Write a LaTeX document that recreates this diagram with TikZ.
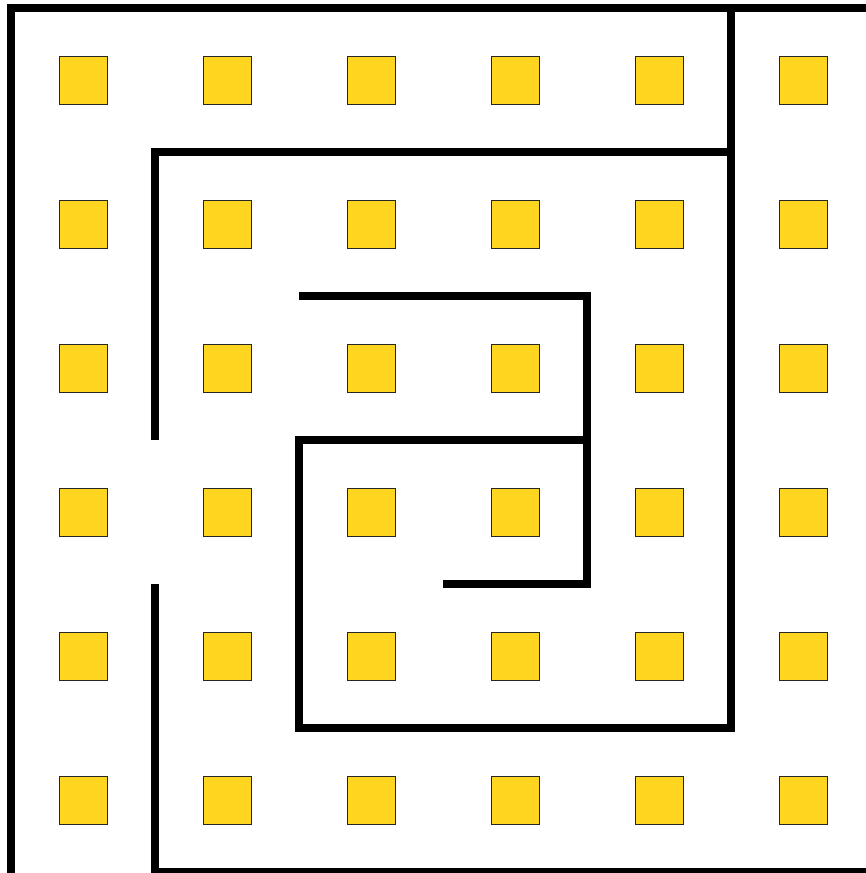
\documentclass[tikz,border=0pt]{standalone}
\usepackage{xcolor}
\usepackage{tikz}
\usetikzlibrary{positioning}
\definecolor{tileyellow}{HTML}{FFD520}

\begin{document}
\begin{tikzpicture}[
  x=2.88cm, y=-2.88cm,
  tile/.style={rectangle, draw=black!85, fill=tileyellow, line width=0.5pt,
               minimum size=0.96cm, inner sep=0pt},
  wall/.style={line width=4.2pt, line join=miter}
]
  \useasboundingbox (-0.0764,-0.0556) rectangle (5.9306,6.0069);
  % tiles
  \foreach \i in {0,...,5}
    \foreach \j in {0,...,5}
      \node[tile] (t\i\j) at (\i+0.5,\j+0.5) {};

  % outer walls
  \draw[wall] (0,6.1) -- (0,0) -- (6.1,0);
  \draw[wall] (5,0) -- (5,1);
  \draw[wall] (1,4) -- (1,6) -- (6.1,6);
  % spiral
  \draw[wall] (1,3) -- (1,1) -- (5,1) -- (5,5) -- (2,5) -- (2,3) -- (4,3);
  \draw[wall] (2,2) -- (4,2) -- (4,4) -- (3,4);
\end{tikzpicture}
\end{document}
